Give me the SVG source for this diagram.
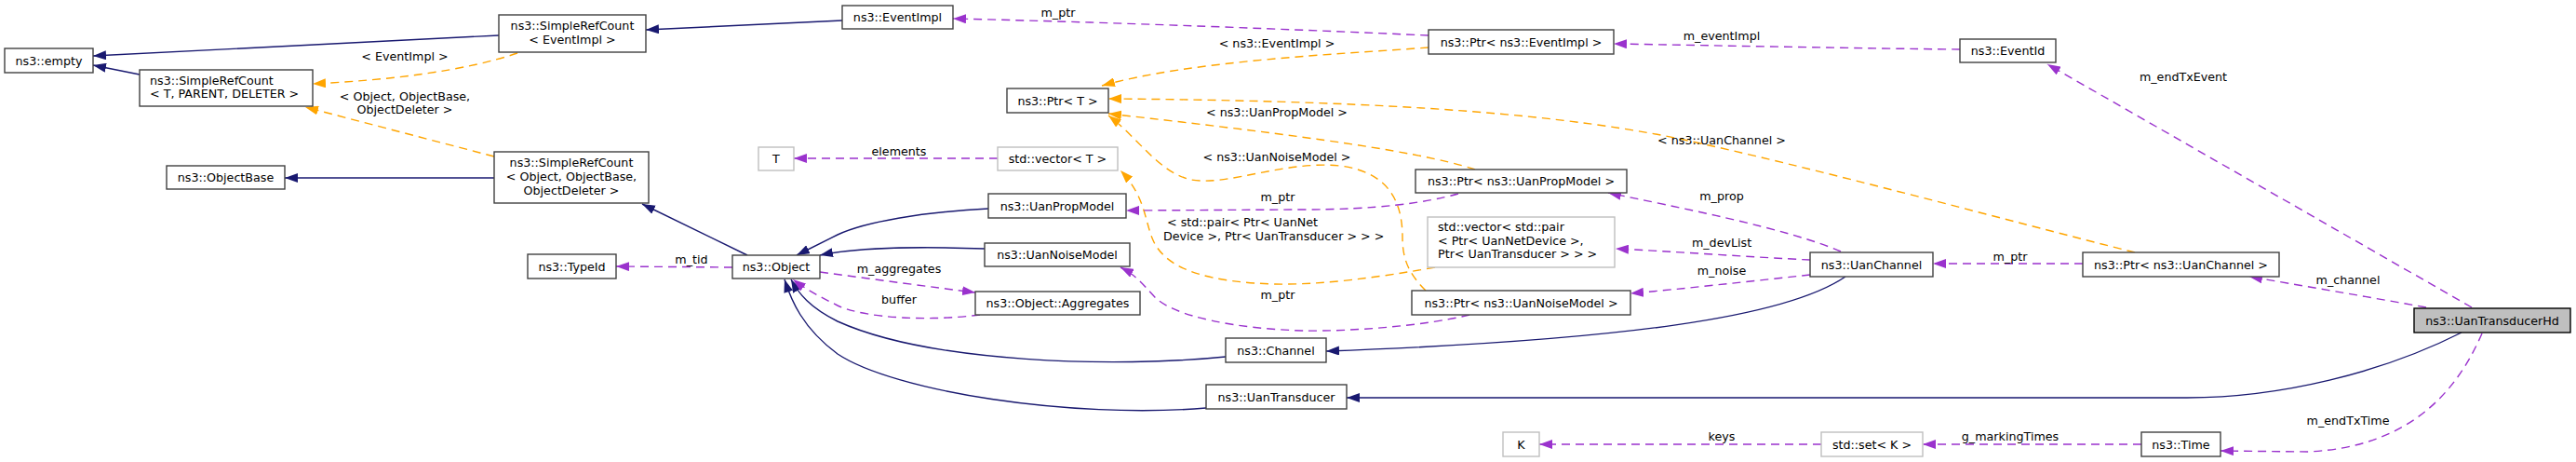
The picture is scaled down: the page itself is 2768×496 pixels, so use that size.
<svg xmlns="http://www.w3.org/2000/svg" width="2768" height="496" viewBox="0 0 2768 496">
<style>
text{font-family:"DejaVu Sans","Liberation Sans",sans-serif;font-size:12.7px;fill:#000}
.n rect{fill:#fff;stroke:#404040;stroke-width:1.4}
.g rect{fill:#fff;stroke:#bfbfbf;stroke-width:1.4}
.h rect{fill:#bfbfbf;stroke:#000;stroke-width:1.4}
.c{text-anchor:middle}
.inh{fill:none;stroke:#191970;stroke-width:1.4}
.use{fill:none;stroke:#9a32cd;stroke-width:1.4;stroke-dasharray:9,6}
.tpl{fill:none;stroke:#ffa500;stroke-width:1.4;stroke-dasharray:9,6}
</style>
<defs>
<marker id="aI" markerUnits="userSpaceOnUse" viewBox="0 0 14 10" markerWidth="14" markerHeight="10" refX="14" refY="5" orient="auto"><path d="M0,0 L14,5 L0,10 z" fill="#191970"/></marker>
<marker id="aU" markerUnits="userSpaceOnUse" viewBox="0 0 14 10" markerWidth="14" markerHeight="10" refX="14" refY="5" orient="auto"><path d="M0,0 L14,5 L0,10 z" fill="#9a32cd"/></marker>
<marker id="aT" markerUnits="userSpaceOnUse" viewBox="0 0 14 10" markerWidth="14" markerHeight="10" refX="14" refY="5" orient="auto"><path d="M0,0 L14,5 L0,10 z" fill="#ffa500"/></marker>
</defs>
<rect width="2768" height="496" fill="#fff"/>
<g id="edges">
<path class="inh" marker-end="url(#aI)" d="M536,38 L100,60"/>
<path class="inh" marker-end="url(#aI)" d="M150,80 L100,70"/>
<path class="tpl" marker-end="url(#aT)" d="M556,57 C500,76 420,86 336,90"/>
<path class="tpl" marker-end="url(#aT)" d="M531,168 L328,115"/>
<path class="inh" marker-end="url(#aI)" d="M531,191 L306,191"/>
<path class="inh" marker-end="url(#aI)" d="M905,22 L694,32"/>
<path class="inh" marker-end="url(#aI)" d="M803,274 L690,219"/>
<path class="use" marker-end="url(#aU)" d="M787,287 L662,286"/>
<path class="use" marker-end="url(#aU)" d="M1072,170 L853,170"/>
<path class="tpl" marker-end="url(#aT)" d="M1542,287 C1480,298 1420,306 1370,305 C1300,303 1255,290 1240,260 C1230,240 1232,212 1204,183"/>
<path class="tpl" marker-end="url(#aT)" d="M1535,51 C1440,58 1280,65 1184,92"/>
<path class="tpl" marker-end="url(#aT)" d="M1585,182 C1520,160 1350,140 1191,122"/>
<path class="tpl" marker-end="url(#aT)" d="M2294,271 C2150,235 1950,180 1800,148 C1650,118 1450,108 1191,106"/>
<path class="tpl" marker-end="url(#aT)" d="M1532,312 C1515,295 1507,280 1507,255 C1507,220 1495,185 1440,178 C1380,172 1320,200 1280,193 C1245,185 1225,150 1191,124"/>
<path class="use" marker-end="url(#aU)" d="M1535,38 C1400,32 1200,24 1024,20"/>
<path class="use" marker-end="url(#aU)" d="M2106,53 C2000,52 1850,49 1734,47"/>
<path class="use" marker-end="url(#aU)" d="M2656,330 L2200,69"/>
<path class="use" marker-end="url(#aU)" d="M2607,330 C2540,318 2470,306 2417,297"/>
<path class="use" marker-end="url(#aU)" d="M2238,283 L2077,283"/>
<path class="use" marker-end="url(#aU)" d="M1978,270 C1920,245 1800,222 1728,207"/>
<path class="use" marker-end="url(#aU)" d="M1945,279 C1880,276 1800,270 1736,267"/>
<path class="use" marker-end="url(#aU)" d="M1945,295 C1880,302 1810,310 1752,315"/>
<path class="use" marker-end="url(#aU)" d="M1567,208 C1530,218 1480,225 1400,225 L1210,226"/>
<path class="use" marker-end="url(#aU)" d="M1579,338 C1530,350 1450,356 1400,355 C1330,353 1260,340 1240,318 C1228,305 1220,295 1204,287"/>
<path class="inh" marker-end="url(#aI)" d="M1983,297 C1920,340 1750,365 1425,377"/>
<path class="inh" marker-end="url(#aI)" d="M1317,383 C1200,395 1000,390 900,345 C870,330 858,315 850,300"/>
<path class="inh" marker-end="url(#aI)" d="M1296,438 C1150,450 960,420 900,380 C862,352 850,322 843,300"/>
<path class="inh" marker-end="url(#aI)" d="M2645,357 C2560,400 2450,427 2350,427 L1447,427"/>
<path class="inh" marker-end="url(#aI)" d="M1062,224 C990,228 930,238 900,252 C880,262 868,268 856,274"/>
<path class="inh" marker-end="url(#aI)" d="M1058,267 C1000,265 930,264 881,274"/>
<path class="use" marker-end="url(#aU)" d="M881,292 C940,300 1000,308 1048,314"/>
<path class="use" marker-end="url(#aU)" d="M1053,338 C1000,345 930,342 900,328 C880,318 865,310 852,300"/>
<path class="use" marker-end="url(#aU)" d="M1957,477 L1654,477"/>
<path class="use" marker-end="url(#aU)" d="M2301,477 L2066,477"/>
<path class="use" marker-end="url(#aU)" d="M2667,358 C2640,420 2590,480 2480,485 L2386,484"/>
<text class="c" x="435" y="65">&lt; EventImpl &gt;</text>
<text class="c" x="435" y="108">&lt; Object, ObjectBase,</text>
<text class="c" x="435" y="122">ObjectDeleter &gt;</text>
<text class="c" x="1137" y="18">m_ptr</text>
<text class="c" x="1372" y="51">&lt; ns3::EventImpl &gt;</text>
<text class="c" x="966" y="167">elements</text>
<text class="c" x="1372" y="125">&lt; ns3::UanPropModel &gt;</text>
<text class="c" x="1372" y="173">&lt; ns3::UanNoiseModel &gt;</text>
<text class="c" x="1373" y="216">m_ptr</text>
<text x="1254" y="243">&lt; std::pair&lt; Ptr&lt; UanNet</text>
<text x="1250" y="258">Device &gt;, Ptr&lt; UanTransducer &gt; &gt; &gt;</text>
<text class="c" x="743" y="283">m_tid</text>
<text class="c" x="966" y="293">m_aggregates</text>
<text class="c" x="966" y="326">buffer</text>
<text class="c" x="1373" y="321">m_ptr</text>
<text class="c" x="1850" y="43">m_eventImpl</text>
<text class="c" x="1850" y="155">&lt; ns3::UanChannel &gt;</text>
<text class="c" x="1850" y="215">m_prop</text>
<text class="c" x="1850" y="265">m_devList</text>
<text class="c" x="1850" y="295">m_noise</text>
<text class="c" x="1850" y="473">keys</text>
<text class="c" x="2346" y="87">m_endTxEvent</text>
<text class="c" x="2160" y="280">m_ptr</text>
<text class="c" x="2523" y="305">m_channel</text>
<text class="c" x="2523" y="456">m_endTxTime</text>
<text class="c" x="2160" y="473">g_markingTimes</text>
</g>
<g id="empty" class="n"><rect x="5" y="52" width="95" height="26"/><text class="c" x="52.5" y="69.5">ns3::empty</text></g>
<g id="srcEventImpl" class="n"><rect x="536" y="16" width="158" height="40"/><text class="c" x="615" y="32">ns3::SimpleRefCount</text><text class="c" x="615" y="47">&lt; EventImpl &gt;</text></g>
<g id="srcTPD" class="n"><rect x="150" y="75" width="186" height="39"/><text x="161" y="91">ns3::SimpleRefCount</text><text x="161" y="105">&lt; T, PARENT, DELETER &gt;</text></g>
<g id="objectBase" class="n"><rect x="179" y="178" width="127" height="25"/><text class="c" x="242.5" y="195">ns3::ObjectBase</text></g>
<g id="srcObject" class="n"><rect x="531" y="163" width="166" height="55"/><text class="c" x="614" y="179">ns3::SimpleRefCount</text><text class="c" x="614" y="194">&lt; Object, ObjectBase,</text><text class="c" x="614" y="209">ObjectDeleter &gt;</text></g>
<g id="typeId" class="n"><rect x="567" y="273" width="95" height="26"/><text class="c" x="614.5" y="290.5">ns3::TypeId</text></g>
<g id="eventImpl" class="n"><rect x="905" y="6" width="119" height="25"/><text class="c" x="964.5" y="23">ns3::EventImpl</text></g>
<g id="ptrT" class="n"><rect x="1082" y="95" width="109" height="26"/><text class="c" x="1136.5" y="112.5">ns3::Ptr&lt; T &gt;</text></g>
<g id="T" class="g"><rect x="815" y="158" width="38" height="25"/><text class="c" x="834" y="175">T</text></g>
<g id="vectorT" class="g"><rect x="1072" y="158" width="129" height="25"/><text class="c" x="1136.5" y="175">std::vector&lt; T &gt;</text></g>
<g id="uanPropModel" class="n"><rect x="1062" y="208" width="148" height="26"/><text class="c" x="1136" y="225.5">ns3::UanPropModel</text></g>
<g id="object" class="n"><rect x="787" y="274" width="94" height="25"/><text class="c" x="834" y="291">ns3::Object</text></g>
<g id="uanNoiseModel" class="n"><rect x="1058" y="261" width="156" height="25"/><text class="c" x="1136" y="278">ns3::UanNoiseModel</text></g>
<g id="aggregates" class="n"><rect x="1048" y="313" width="177" height="25"/><text class="c" x="1136.5" y="330">ns3::Object::Aggregates</text></g>
<g id="channel" class="n"><rect x="1317" y="363" width="108" height="26"/><text class="c" x="1371" y="380.5">ns3::Channel</text></g>
<g id="uanTransducer" class="n"><rect x="1296" y="413" width="151" height="26"/><text class="c" x="1371.5" y="430.5">ns3::UanTransducer</text></g>
<g id="ptrEventImpl" class="n"><rect x="1535" y="32" width="199" height="26"/><text class="c" x="1634.5" y="49.5">ns3::Ptr&lt; ns3::EventImpl &gt;</text></g>
<g id="ptrUanPropModel" class="n"><rect x="1521" y="182" width="227" height="25"/><text class="c" x="1634.5" y="199">ns3::Ptr&lt; ns3::UanPropModel &gt;</text></g>
<g id="vectorPair" class="g"><rect x="1534" y="233" width="201" height="54"/><text x="1545" y="248">std::vector&lt; std::pair</text><text x="1545" y="263">&lt; Ptr&lt; UanNetDevice &gt;,</text><text x="1545" y="277"> Ptr&lt; UanTransducer &gt; &gt; &gt;</text></g>
<g id="uanChannel" class="n"><rect x="1945" y="271" width="132" height="26"/><text class="c" x="2011" y="288.5">ns3::UanChannel</text></g>
<g id="ptrUanNoiseModel" class="n"><rect x="1517" y="312" width="235" height="26"/><text class="c" x="1634.5" y="329.5">ns3::Ptr&lt; ns3::UanNoiseModel &gt;</text></g>
<g id="K" class="g"><rect x="1615" y="464" width="39" height="26"/><text class="c" x="1634.5" y="481.5">K</text></g>
<g id="setK" class="g"><rect x="1957" y="464" width="109" height="26"/><text class="c" x="2011.5" y="481.5">std::set&lt; K &gt;</text></g>
<g id="eventId" class="n"><rect x="2106" y="42" width="103" height="25"/><text class="c" x="2157.5" y="59">ns3::EventId</text></g>
<g id="ptrUanChannel" class="n"><rect x="2238" y="271" width="211" height="26"/><text class="c" x="2343.5" y="288.5">ns3::Ptr&lt; ns3::UanChannel &gt;</text></g>
<g id="uanTransducerHd" class="h"><rect x="2594" y="331" width="168" height="26"/><text class="c" x="2678" y="348.5">ns3::UanTransducerHd</text></g>
<g id="time" class="n"><rect x="2301" y="464" width="85" height="26"/><text class="c" x="2343.5" y="481.5">ns3::Time</text></g>
</svg>
